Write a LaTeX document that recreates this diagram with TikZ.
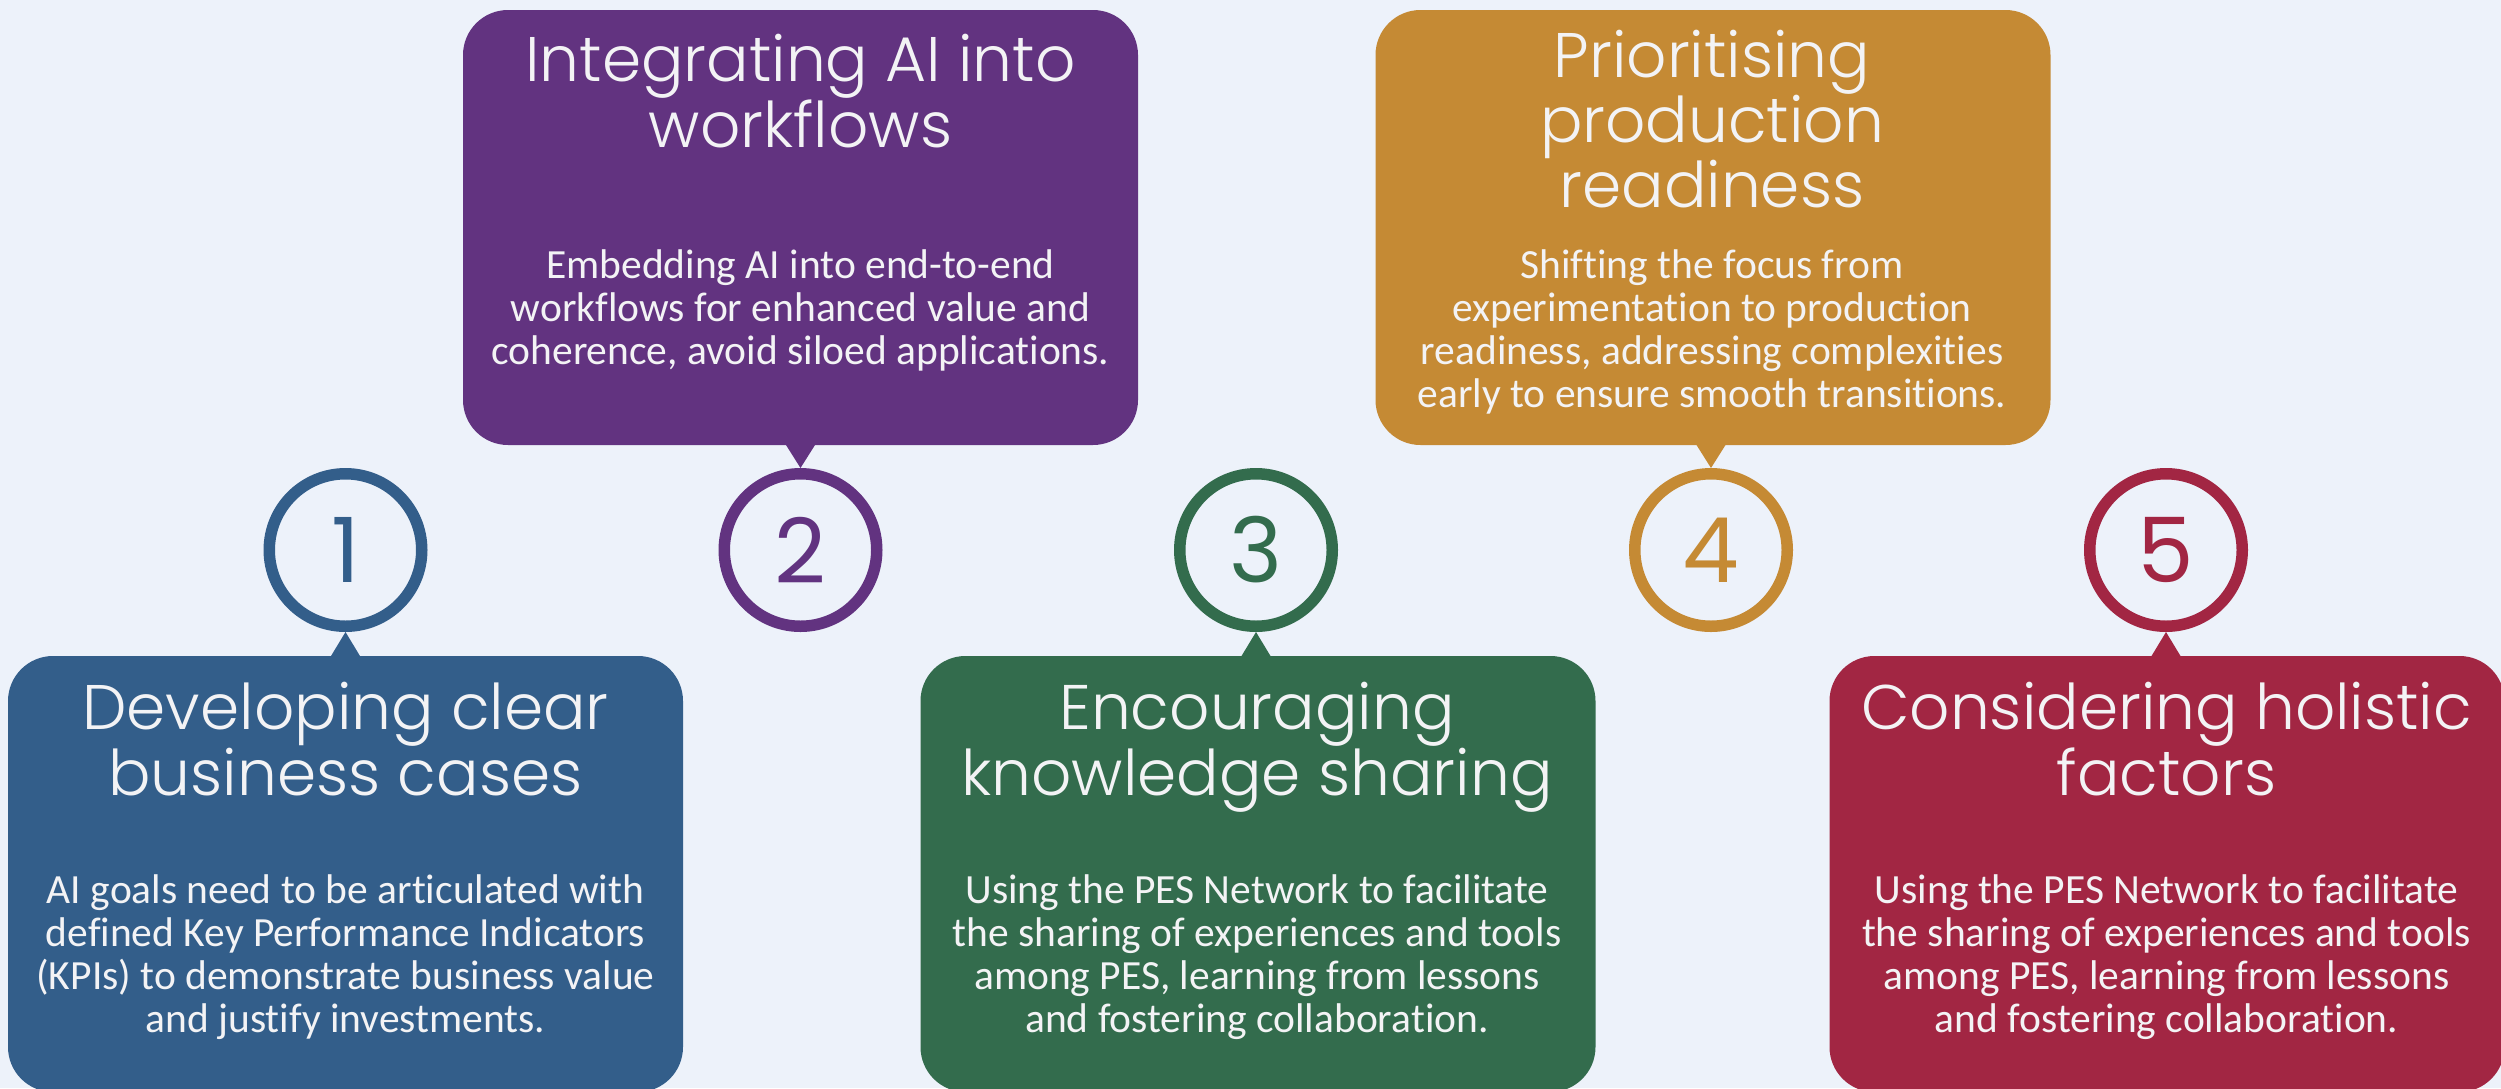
\documentclass[tikz,border=0pt]{standalone}
\usepackage{fontspec}
\setmainfont{Carlito}[Ligatures=NoCommon]
\newfontfamily\titlefont{Poppins Light}
\newfontfamily\numfont{Poppins}
\definecolor{bg}{HTML}{EDF2FA}
\definecolor{txt}{HTML}{F3F3F5}
\definecolor{cblue}{HTML}{335E8A}
\definecolor{cpurple}{HTML}{623380}
\definecolor{cgreen}{HTML}{336C4D}
\definecolor{cgold}{HTML}{C58A34}
\definecolor{cred}{HTML}{A22643}
\begin{document}
\begin{tikzpicture}[x=1pt,y=-1pt,
  card/.style={rectangle, rounded corners=45pt, minimum width=675pt, inner sep=0pt, outer sep=0pt, draw=none},
  lowcard/.style={card, minimum height=436pt},
  highcard/.style={card, minimum height=435pt},
  ring/.style={circle, draw, line width=11.5pt, minimum size=152.5pt, inner sep=0pt, fill=bg, font=\numfont\fontsize{90}{90}\selectfont},
  ttl/.style={anchor=base, align=center, text=txt, inner sep=0pt, font=\titlefont\fontsize{63}{60}\selectfont},
  bdy/.style={anchor=base, align=center, text=txt, inner sep=0pt, font=\fontsize{41.5}{43}\selectfont}]
\useasboundingbox (0,0) rectangle (2501,1088);
\clip (0,0) rectangle (2501,1088);
\fill[bg] (0,0) rectangle (2501,1088);

% cards
\node[lowcard, fill=cblue] (b1) at (345.5,874) {};
\node[highcard, fill=cpurple] (b2) at (800.5,227.5) {};
\node[lowcard, fill=cgreen] (b3) at (1258,874) {};
\node[highcard, fill=cgold] (b4) at (1713,227.5) {};
\node[lowcard, fill=cred] (b5) at (2167,874) {};

% rings
\node[ring, draw=cblue, text=cblue] (c1) at (345.5,550) {1};
\node[ring, draw=cpurple, text=cpurple] (c2) at (800.5,550) {2};
\node[ring, draw=cgreen, text=cgreen] (c3) at (1256,550) {3};
\node[ring, draw=cgold, text=cgold] (c4) at (1711,550) {4};
\node[ring, draw=cred, text=cred] (c5) at (2166,550) {5};

% pointers
\fill[cblue] ([xshift=-14.5pt]b1.north) -- (c1.south) -- ([xshift=14.5pt]b1.north) -- cycle;
\fill[cpurple] ([xshift=-14.5pt]b2.south) -- (c2.north) -- ([xshift=14.5pt]b2.south) -- cycle;
\fill[cgreen] ([xshift=-16.5pt]b3.north) -- (c3.south) -- ([xshift=12.5pt]b3.north) -- cycle;
\fill[cgold] ([xshift=-16.5pt]b4.south) -- (c4.north) -- ([xshift=12.5pt]b4.south) -- cycle;
\fill[cred] ([xshift=-15.5pt]b5.north) -- (c5.south) -- ([xshift=13.5pt]b5.north) -- cycle;

% titles (anchor = baseline of last line)
\node[ttl] (t1) at (345.5,795) {Developing clear\\business cases};
\node[ttl] (t2) at (800.5,147) {Integrating AI into\\workflows};
\node[ttl] (t3) at (1257,795) {Encouraging\\knowledge sharing};
\node[ttl] (t4) at (1712,207) {Prioritising\\production\\readiness};
\node[ttl] (t5) at (2166.5,795) {Considering holistic\\factors};

% bodies (anchor = baseline of last line)
\node[bdy] (d1) at (345.5,1032) {AI goals need to be articulated with\\defined Key Performance Indicators\\(KPIs) to demonstrate business value\\and justify investments.};
\node[bdy] (d2) at (800.5,364) {Embedding AI into end-to-end\\workflows for enhanced value and\\coherence, avoid siloed applications.};
\node[bdy] (d3) at (1257,1032) {Using the PES Network to facilitate\\the sharing of experiences and tools\\among PES, learning from lessons\\and fostering collaboration.};
\node[bdy] (d4) at (1712,407) {Shifting the focus from\\experimentation to production\\readiness, addressing complexities\\early to ensure smooth transitions.};
\node[bdy] (d5) at (2166.5,1032) {Using the PES Network to facilitate\\the sharing of experiences and tools\\among PES, learning from lessons\\and fostering collaboration.};
\end{tikzpicture}
\end{document}
